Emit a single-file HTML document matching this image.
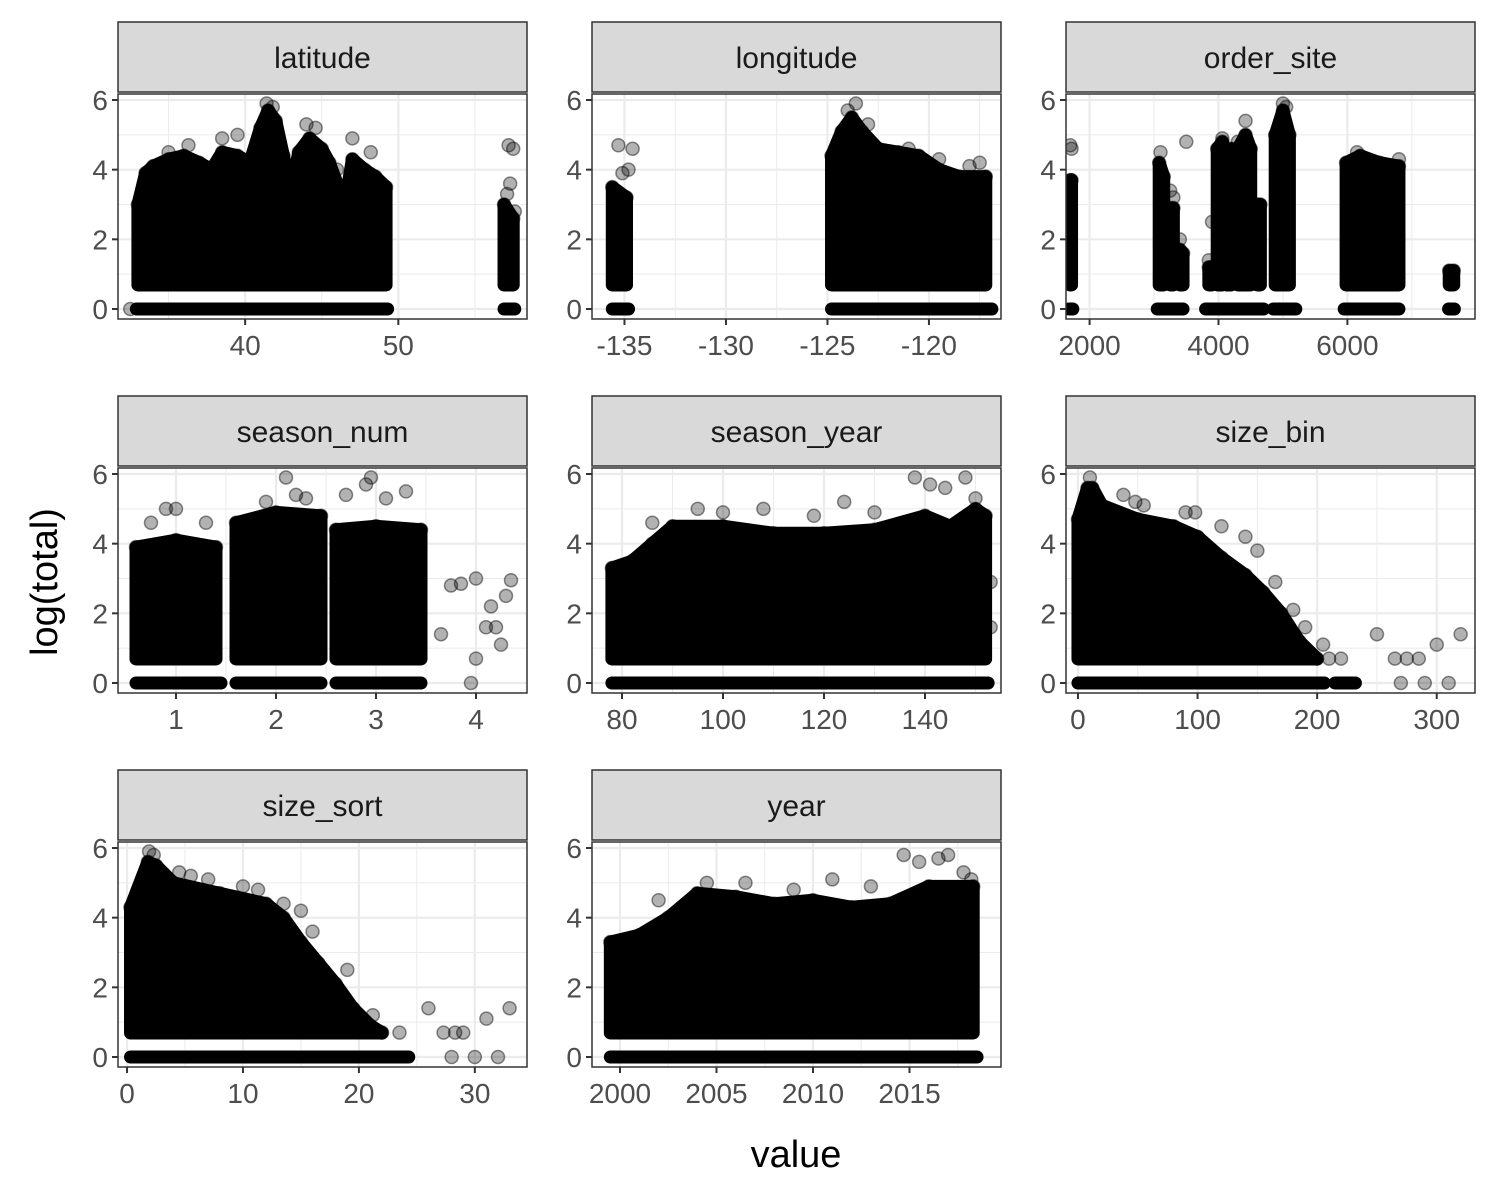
<!DOCTYPE html>
<html><head><meta charset="utf-8">
<style>
html,body{margin:0;padding:0;background:#fff;}
svg{display:block;font-family:"Liberation Sans",Arial,sans-serif;}
</style></head>
<body>
<svg id="chart" width="1500" height="1200" viewBox="0 0 1500 1200" xmlns="http://www.w3.org/2000/svg">
<rect x="0" y="0" width="1500" height="1200" fill="#fff"/>
<text x="796" y="1167" font-size="38" text-anchor="middle" fill="#000">value</text>
<text transform="translate(57,582) rotate(-90)" font-size="38" text-anchor="middle" fill="#000">log(total)</text>
</svg>
<script>
const panelNames = ["latitude","longitude","order_site","season_num","season_year","size_bin","size_sort","year"];
const xDomains = [[31.7,58.4],[-136.6,-116.45],[1634,7980],[0.42,4.51],[74.06,155.05],[-10,332],[-0.78,34.5],[1998.55,2019.74]];
const xTicks = [[40,50],[-135,-130,-125,-120],[2000,4000,6000],[1,2,3,4],[80,100,120,140],[0,100,200,300],[0,10,20,30],[2000,2005,2010,2015]];
const xMinor = [[35,45,55],[-132.5,-127.5,-122.5,-117.5],[3000,5000,7000],[1.5,2.5,3.5],[90,110,130,150],[50,150,250],[5,15,25],[2002.5,2007.5,2012.5,2017.5]];
const yTicks = [0,2,4,6];
const yMinor = [1,3,5];
// dense clouds: [x, max log(total)]
const clouds = [
 [[[33,3.0],[33.5,3.9],[34,4.1],[35,4.3],[36,4.4],[37,4.2],[37.8,4.0],[38.5,4.5],[39.5,4.4],[40.3,4.2],[41,5.2],[41.5,5.7],[42,5.4],[42.5,4.4],[43,3.4],[43.5,4.5],[44.2,4.9],[45,4.6],[45.5,4.2],[46,3.6],[46.5,3.0],[47,4.3],[47.8,4.0],[48.5,3.8],[49.2,3.5]],[[56.9,3.0],[57.5,2.6]]],
 [[[-135.6,3.5],[-134.9,3.2]],[[-124.8,4.4],[-124.3,5.1],[-123.8,5.5],[-123.3,5.1],[-122.5,4.6],[-121.5,4.5],[-120.5,4.4],[-119.5,4.0],[-118.5,3.8],[-117.2,3.8]]],
 [[[1700,3.7],[1720,3.7]],[[3080,4.2],[3150,3.8]],[[3250,2.9],[3300,2.9]],[[3400,1.7],[3450,1.6]],[[3850,1.2],[3900,1.2]],[[3980,4.6],[4060,4.8]],[[4120,4.4],[4200,4.6]],[[4300,4.6],[4420,5.0],[4500,4.6]],[[4600,3.0],[4650,3.0]],[[4880,5.0],[5000,5.7],[5100,5.0]],[[5980,4.2],[6200,4.4],[6500,4.2],[6800,4.1]],[[7580,1.1],[7650,1.1]]],
 [[[0.6,3.9],[1.0,4.1],[1.4,3.9]],[[1.6,4.6],[2.0,4.9],[2.45,4.8]],[[2.6,4.4],[3.0,4.5],[3.45,4.4]]],
 [[[78,3.3],[82,3.5],[86,4.0],[90,4.5],[100,4.5],[110,4.3],[120,4.3],[130,4.4],[140,4.8],[145,4.5],[150,5.0],[152,4.8]]],
 [[[0,4.7],[8,5.6],[12,5.6],[20,5.1],[50,4.7],[80,4.5],[100,4.2],[120,3.6],[140,3.1],[155,2.6],[170,2.0],[185,1.2],[200,0.7]]],
 [[[0.3,4.3],[1.8,5.6],[2.5,5.5],[4,5.0],[8,4.7],[12,4.4],[13.5,4.0],[15,3.3],[16.5,2.7],[18,2.1],[19.5,1.4],[21,0.9],[22,0.7]]],
 [[[1999.5,3.3],[2001,3.5],[2002.5,4.0],[2004,4.7],[2006,4.6],[2008,4.4],[2010,4.5],[2012,4.3],[2014,4.4],[2016,4.9],[2018.3,4.9]]]
];
// zero-count rows: [xStart, xEnd]
const zeroRows = [
 [[32.9,49.3],[56.9,57.6]],
 [[-135.6,-134.8],[-124.8,-116.9]],
 [[1680,1740],[3050,3450],[3800,4700],[4850,5200],[5950,6800],[7570,7660]],
 [[0.6,1.45],[1.6,2.45],[2.6,3.45]],
 [[78,152.5]],
 [[0,206],[215,232]],
 [[0.3,24.3]],
 [[1999.5,2018.5]]
];
// scattered points: [x, log(total)]
const outliers = [
 [[57.2,4.7],[57.5,4.6],[57.3,3.6],[57.1,3.3],[57.6,2.8],[57.2,2.5],[32.5,0],[41.4,5.9],[41.8,5.8],[44,5.3],[44.6,5.2],[38.5,4.9],[39.5,5.0],[47,4.9],[48.2,4.5],[35,4.5],[36.3,4.7],[46,4.0]],
 [[-135.3,4.7],[-134.6,4.6],[-135.1,3.9],[-134.8,4.0],[-123.6,5.9],[-124,5.7],[-123,5.3],[-121,4.6],[-118,4.1],[-117.5,4.2],[-119.5,4.3]],
 [[1700,4.7],[1720,4.6],[3100,4.5],[3250,3.4],[3300,3.2],[3500,4.8],[3400,2.0],[3850,1.4],[3900,2.5],[4420,5.4],[5000,5.9],[5050,5.8],[4060,4.9],[4300,4.8],[6150,4.5],[6300,4.3],[6800,4.3]],
 [[0.9,5.0],[1.0,5.0],[0.75,4.6],[1.3,4.6],[1.9,5.2],[2.1,5.9],[2.2,5.4],[2.3,5.3],[2.7,5.4],[2.9,5.7],[2.95,5.9],[3.1,5.3],[3.3,5.5],[3.65,1.4],[3.75,2.8],[3.85,2.85],[3.95,0],[4.0,3.0],[4.0,0.7],[4.1,1.6],[4.15,2.2],[4.2,1.6],[4.25,1.1],[4.3,2.5],[4.35,2.95]],
 [[86,4.6],[95,5.0],[100,4.9],[108,5.0],[118,4.8],[124,5.2],[130,4.9],[138,5.9],[141,5.7],[144,5.6],[148,5.9],[150,5.3],[153,2.9],[153,1.6]],
 [[10,5.9],[38,5.4],[48,5.2],[55,5.1],[90,4.9],[98,4.9],[120,4.5],[140,4.2],[150,3.8],[165,2.9],[180,2.1],[190,1.6],[205,1.1],[210,0.7],[220,0.7],[250,1.4],[265,0.7],[275,0.7],[285,0.7],[300,1.1],[320,1.4],[270,0],[290,0],[310,0]],
 [[1.9,5.9],[2.3,5.8],[4.5,5.3],[5.5,5.2],[7,5.1],[10,4.9],[11.3,4.8],[13.5,4.4],[15,4.2],[16,3.6],[19,2.5],[21.2,1.2],[23.5,0.7],[26,1.4],[27.3,0.7],[28.3,0.7],[29,0.7],[31,1.1],[33,1.4],[28,0],[30,0],[32,0]],
 [[2002,4.5],[2004.5,5.0],[2006.5,5.0],[2009,4.8],[2011,5.1],[2013,4.9],[2014.7,5.8],[2015.5,5.6],[2016.5,5.7],[2017,5.8],[2017.8,5.3],[2018.2,5.1]]
];
const svg = document.getElementById('chart');
const NS = 'http://www.w3.org/2000/svg';
function mk(tag, attrs, parent){
  const e = document.createElementNS(NS, tag);
  for (const k in attrs) e.setAttribute(k, attrs[k]);
  (parent||svg).appendChild(e);
  return e;
}
const colX = [118,592,1066], PW = 409;
const R = 6.5;
panelNames.forEach((name, i) => {
  const col = i % 3, row = Math.floor(i / 3);
  const L = colX[col], Rr = L + PW;
  const off = row * 374;
  const top = 94 + off, bot = 319 + off;
  const y0 = 309 + off, y6 = 100 + off;
  const [d0, d1] = xDomains[i];
  const sx = v => L + (v - d0) / (d1 - d0) * PW;
  const sy = v => y0 + (y6 - y0) * v / 6;
  const g = mk('g', {});
  
  
  const strip = mk('rect', {x: L, y: 22 + off, width: PW, height: 70, fill: '#D9D9D9', stroke: '#333', 'stroke-width': 1.5}, g);
  
  
  const st = mk('text', {x: L + PW/2, y: 68 + off, 'font-size': 30, 'text-anchor': 'middle', fill: '#1A1A1A'}, g);
  st.textContent = name;
  
  
  const cp = mk('clipPath', {id: 'cp' + i}, g);
  mk('rect', {x: L, y: top, width: PW, height: bot - top}, cp);
  const gg = mk('g', {'clip-path': 'url(#cp' + i + ')'}, g);
  xMinor[i].forEach(v => mk('line', {x1: sx(v), x2: sx(v), y1: top, y2: bot, stroke: '#EBEBEB', 'stroke-width': 1}, gg));
  yMinor.forEach(v => mk('line', {x1: L, x2: Rr, y1: sy(v), y2: sy(v), stroke: '#EBEBEB', 'stroke-width': 1}, gg));
  xTicks[i].forEach(v => mk('line', {x1: sx(v), x2: sx(v), y1: top, y2: bot, stroke: '#EBEBEB', 'stroke-width': 2.2}, gg));
  yTicks.forEach(v => mk('line', {x1: L, x2: Rr, y1: sy(v), y2: sy(v), stroke: '#EBEBEB', 'stroke-width': 2.2}, gg));
  clouds[i].forEach(c => {
    let pts = [[sx(c[0][0]), sy(0.69)]];
    c.forEach(p => pts.push([sx(p[0]), sy(p[1])]));
    pts.push([sx(c[c.length-1][0]), sy(0.69)]);
    const poly = mk('polygon', {points: pts.map(p => p.join(',')).join(' '), fill: '#000', stroke: '#000', 'stroke-width': 2*R, 'stroke-linejoin': 'round'}, gg);
    
    
    c.forEach(p => {
      const ci = mk('circle', {cx: sx(p[0]), cy: sy(p[1]), r: R, fill: 'rgba(0,0,0,0.35)', stroke: 'rgba(0,0,0,0.5)', 'stroke-width': 1.5}, gg);
      
      
    });
  });
  zeroRows[i].forEach(z => {
    const ln = mk('line', {x1: sx(z[0]), x2: sx(z[1]), y1: sy(0), y2: sy(0), stroke: '#000', 'stroke-width': 2*R, 'stroke-linecap': 'round'}, gg);
    
    
  });
  outliers[i].forEach(p => {
    const ci = mk('circle', {cx: sx(p[0]), cy: sy(p[1]), r: R, fill: 'rgba(0,0,0,0.3)', stroke: 'rgba(0,0,0,0.45)', 'stroke-width': 1.5}, gg);
    
    
  });
  mk('rect', {x: L, y: top, width: PW, height: bot - top, fill: 'none', stroke: '#333', 'stroke-width': 1.5}, g);
  yTicks.forEach(v => {
    mk('line', {x1: L - 6, x2: L, y1: sy(v), y2: sy(v), stroke: '#333', 'stroke-width': 2}, g);
    const t = mk('text', {x: L - 10, y: sy(v) + 10, 'font-size': 28, 'text-anchor': 'end', fill: '#4D4D4D'}, g);
    t.textContent = v;
    
    
  });
  xTicks[i].forEach(v => {
    mk('line', {x1: sx(v), x2: sx(v), y1: bot, y2: bot + 6, stroke: '#333', 'stroke-width': 2}, g);
    const t = mk('text', {x: sx(v), y: bot + 36, 'font-size': 28, 'text-anchor': 'middle', fill: '#4D4D4D'}, g);
    t.textContent = v;
    
    
  });
});
</script>
</body></html>
